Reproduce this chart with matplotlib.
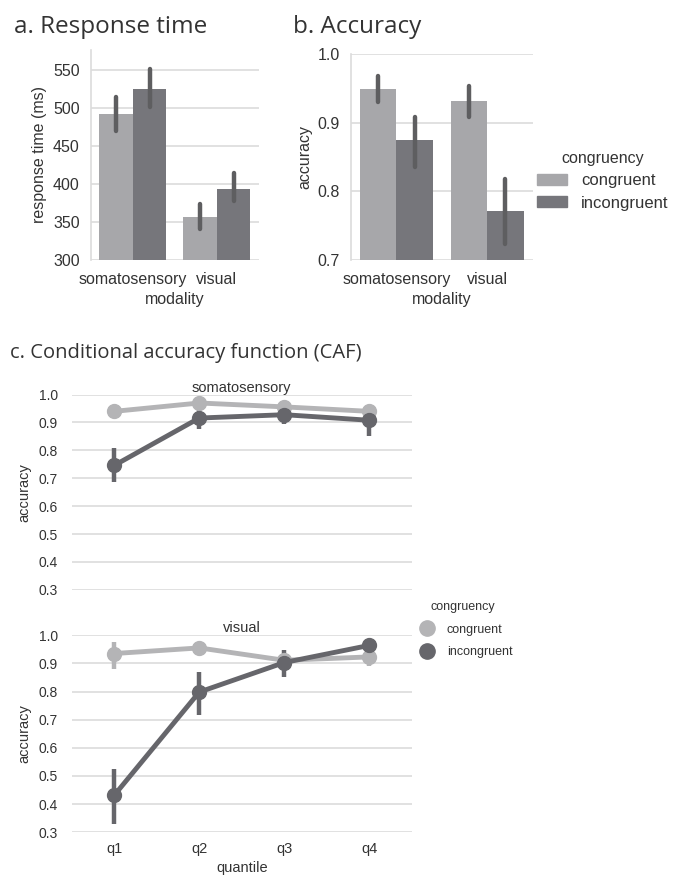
import numpy as np
import matplotlib
matplotlib.use("Agg")
import matplotlib.pyplot as plt
from matplotlib.lines import Line2D
from matplotlib.patches import Patch

plt.rcParams['font.family'] = ['Liberation Sans', 'DejaVu Sans']
plt.rcParams['text.color'] = '#333333'
plt.rcParams['axes.labelcolor'] = '#333333'
plt.rcParams['xtick.color'] = '#333333'
plt.rcParams['ytick.color'] = '#333333'

modalities = ['somatosensory', 'visual']
conditions = ['congruent', 'incongruent']
quantiles = ['q1', 'q2', 'q3', 'q4']

# a. response time (ms): mean, ci low, ci high
rt_con = [492, 356]
rt_con_lo = [470, 341]
rt_con_hi = [515, 374]
rt_inc = [525, 394]
rt_inc_lo = [502, 378]
rt_inc_hi = [552, 414]

# b. accuracy
acc_con = [0.949, 0.932]
acc_con_lo = [0.930, 0.909]
acc_con_hi = [0.968, 0.953]
acc_inc = [0.875, 0.771]
acc_inc_lo = [0.836, 0.723]
acc_inc_hi = [0.909, 0.818]

# c. conditional accuracy function
som_con = [0.940, 0.970, 0.956, 0.940]
som_con_lo = [0.915, 0.958, 0.945, 0.928]
som_con_hi = [0.962, 0.980, 0.966, 0.952]
som_inc = [0.746, 0.916, 0.928, 0.908]
som_inc_lo = [0.685, 0.878, 0.894, 0.853]
som_inc_hi = [0.810, 0.955, 0.958, 0.955]
vis_con = [0.935, 0.955, 0.911, 0.923]
vis_con_lo = [0.880, 0.940, 0.890, 0.890]
vis_con_hi = [0.977, 0.968, 0.930, 0.950]
vis_inc = [0.431, 0.798, 0.903, 0.964]
vis_inc_lo = [0.330, 0.715, 0.850, 0.950]
vis_inc_hi = [0.525, 0.868, 0.946, 0.976]

bar_col = {'congruent': '#a7a7aa', 'incongruent': '#76767b'}
pt_col = {'congruent': '#b4b4b6', 'incongruent': '#66666b'}
err_col = '#5e5e60'
grid_col = '#dcdcdc'
title_font = ['Open Sans', 'DejaVu Sans']

fig = plt.figure(figsize=(6.83, 8.75), dpi=100)


def style_axes(ax, left_spine=True):
    ax.set_axisbelow(True)
    ax.grid(axis='y', color=grid_col, lw=1.2)
    for s in ['top', 'right', 'bottom']:
        ax.spines[s].set_visible(False)
    ax.spines['left'].set_visible(left_spine)
    ax.spines['left'].set_color(grid_col)
    ax.spines['left'].set_linewidth(1.2)
    ax.tick_params(length=0)


def barpanel(ax, con, con_lo, con_hi, inc, inc_lo, inc_hi):
    x = np.arange(len(modalities))
    w = 0.4
    for off, vals, lo, hi, name in [(-w / 2, con, con_lo, con_hi, 'congruent'),
                                    (w / 2, inc, inc_lo, inc_hi, 'incongruent')]:
        ax.bar(x + off, vals, width=w, color=bar_col[name], zorder=2)
        ax.vlines(x + off, lo, hi, color=err_col, lw=3.2, zorder=3,
                  capstyle='round')
    ax.set_xticks(x)
    ax.set_xticklabels(modalities, fontsize=11.5)
    ax.set_xlim(-0.5, 1.5)
    ax.set_xlabel('modality', fontsize=11.5, labelpad=3)
    ax.tick_params(axis='y', labelsize=11.5, pad=8)
    ax.tick_params(axis='x', pad=9)
    style_axes(ax)


# panel a
ax_a = fig.add_axes([0.133, 0.703, 0.246, 0.240])
barpanel(ax_a, rt_con, rt_con_lo, rt_con_hi, rt_inc, rt_inc_lo, rt_inc_hi)
ax_a.set_ylim(300, 577)
ax_a.set_yticks([300, 350, 400, 450, 500, 550])
ax_a.set_ylabel('response time (ms)', fontsize=11.5, labelpad=4)
fig.text(0.02, 0.969, 'a. Response time', fontsize=17.5, family=title_font,
         color='#333333', va='center')

# panel b
ax_b = fig.add_axes([0.514, 0.703, 0.266, 0.235])
barpanel(ax_b, acc_con, acc_con_lo, acc_con_hi, acc_inc, acc_inc_lo, acc_inc_hi)
ax_b.set_ylim(0.7, 1.0)
ax_b.set_yticks([0.7, 0.8, 0.9, 1.0])
ax_b.set_ylabel('accuracy', fontsize=11.5, labelpad=4)
fig.text(0.429, 0.969, 'b. Accuracy', fontsize=17.5, family=title_font,
         color='#333333', va='center')
handles_b = [Patch(color=bar_col[c], label=c) for c in conditions]
leg_b = fig.legend(handles=handles_b, title='congruency', loc='upper left',
                   bbox_to_anchor=(0.765, 0.845), frameon=False, fontsize=12,
                   title_fontsize=11.5, handlelength=1.8, handleheight=0.6,
                   handletextpad=0.8, labelspacing=0.45)

# panel c
fig.text(0.015, 0.597, 'c. Conditional accuracy function (CAF)', fontsize=14.5,
         family=title_font, color='#333333', va='center')


def pointpanel(ax, con, con_lo, con_hi, inc, inc_lo, inc_hi, title):
    x = np.arange(len(quantiles))
    for vals, lo, hi, name in [(con, con_lo, con_hi, 'congruent'),
                               (inc, inc_lo, inc_hi, 'incongruent')]:
        ax.vlines(x, lo, hi, color=pt_col[name], lw=3.2, zorder=3)
        ax.plot(x, vals, color=pt_col[name], lw=3.5, marker='o', ms=10,
                zorder=4)
    ax.set_xlim(-0.5, 3.5)
    ax.set_ylim(0.3, 1.0)
    ax.set_yticks(np.round(np.arange(0.3, 1.01, 0.1), 1))
    ax.set_ylabel('accuracy', fontsize=10.5, labelpad=5)
    ax.tick_params(axis='y', labelsize=10, pad=10)
    ax.set_title(title, fontsize=10.5, pad=2)
    style_axes(ax, left_spine=False)


ax_c1 = fig.add_axes([0.105, 0.326, 0.498, 0.223])
pointpanel(ax_c1, som_con, som_con_lo, som_con_hi, som_inc, som_inc_lo,
           som_inc_hi, 'somatosensory')
ax_c1.set_xticks(np.arange(len(quantiles)))
ax_c1.set_xticklabels([])

ax_c2 = fig.add_axes([0.105, 0.049, 0.498, 0.225])
pointpanel(ax_c2, vis_con, vis_con_lo, vis_con_hi, vis_inc, vis_inc_lo,
           vis_inc_hi, 'visual')
ax_c2.set_xticks(np.arange(len(quantiles)))
ax_c2.set_xticklabels(quantiles, fontsize=10.5)
ax_c2.tick_params(axis='x', pad=7)
ax_c2.set_xlabel('quantile', fontsize=10.5, labelpad=4)

handles_c = [Line2D([], [], ls='', marker='o', ms=11, color=pt_col[c], label=c)
             for c in conditions]
fig.legend(handles=handles_c, title='congruency', loc='upper left',
           bbox_to_anchor=(0.59, 0.326), frameon=False, fontsize=9,
           title_fontsize=9, handletextpad=0.6, labelspacing=0.85)

fig.savefig('out.png', dpi=100)
